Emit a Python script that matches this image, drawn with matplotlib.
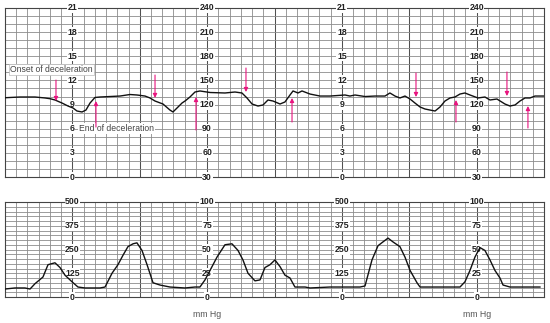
import numpy as np
import matplotlib
matplotlib.use("Agg")
import matplotlib.pyplot as plt

# ---------------- data ----------------
# Fetal heart rate (time in s, bpm)
fhr_t = [0, 13.4, 26.7, 35.6, 40.1, 44.5, 50.8, 56.1, 60.6, 64.1, 68.6, 72.1, 75.7, 80.1,
         84.6, 93.5, 102.4, 111.3, 117.5, 124.7, 129.1, 133.6, 140.7, 146.9, 149.6, 154.1,
         157.7, 160.3, 164.7, 169.2, 173.6, 182.6, 195.9, 204.8, 211.0, 215.5, 220.0, 225.3,
         229.8, 234.2, 238.7, 244.9, 249.3, 253.8, 256.5, 260.9, 264.5, 271.6, 280.5, 289.4,
         302.8, 307.2, 311.7, 320.6, 329.5, 338.4, 342.8, 347.3, 351.7, 356.2, 360.7, 365.1,
         369.6, 374.0, 378.5, 383.0, 387.4, 391.8, 396.3, 400.7, 405.2, 409.6, 414.1, 421.2,
         427.4, 431.9, 438.1, 445.2, 449.7, 454.2, 458.6, 463.1, 467.5, 472.0, 480.0]
fhr_bpm = [128.5, 129.4, 129.4, 128.2, 127.3, 125.7, 121.9, 118.2, 115.7, 112.0, 110.8, 113.2,
           121.9, 128.8, 129.4, 130.0, 130.6, 132.5, 131.9, 130.6, 128.2, 124.4, 120.7, 113.2,
           110.8, 117.0, 122.0, 124.4, 129.4, 135.6, 136.9, 135.0, 134.4, 135.6, 134.4, 128.2,
           120.7, 118.2, 119.5, 125.7, 124.4, 120.7, 123.2, 131.9, 136.9, 134.4, 136.9, 133.1,
           130.6, 130.6, 131.9, 130.6, 131.9, 130.0, 130.6, 130.6, 134.4, 130.6, 128.2, 130.6,
           126.9, 121.9, 117.0, 114.5, 113.2, 112.0, 117.0, 124.4, 128.2, 129.4, 133.1, 134.4,
           131.9, 128.2, 129.4, 125.7, 126.9, 120.7, 118.2, 119.5, 124.4, 128.2, 128.2, 130.6,
           130.6]

# Uterine contractions (time in s, mm Hg)
uc_t = [0, 8.9, 17.8, 22.3, 26.7, 33.8, 38.3, 44.5, 49.0, 53.4, 59.7, 65.0, 71.2, 84.6, 89.1,
        95.3, 100.6, 105.1, 109.5, 114.0, 117.5, 122.0, 126.5, 131.8, 138.0, 146.9, 160.3,
        169.2, 173.6, 178.1, 182.6, 188.8, 195.9, 202.1, 207.5, 211.9, 216.4, 222.6, 227.1,
        231.5, 236.0, 240.4, 244.9, 249.3, 253.8, 258.2, 267.2, 271.6, 289.4, 316.1, 320.6,
        326.8, 332.2, 336.6, 341.1, 345.5, 351.7, 356.2, 360.7, 366.9, 369.6, 387.4, 405.2,
        409.6, 414.1, 418.5, 423.0, 427.4, 431.9, 436.3, 440.8, 443.5, 449.7, 463.1, 472.0,
        476.4]
uc_mmhg = [8.4, 9.5, 9.5, 8.4, 14, 21, 34, 36, 31, 23, 16, 10.5, 9.5, 9.5, 10.5,
           25, 34, 44, 53, 56, 57, 49, 34, 15, 12.6, 10.5, 9.5,
           10.5, 10.5, 18, 28, 42, 55, 56, 49, 39, 25, 17, 18,
           31, 34, 39, 32, 23, 20, 10.5, 10.5, 9.5, 10.5, 10.5, 11.6,
           39, 54, 58, 62, 58, 53, 42, 28, 15, 10.5, 10.5, 10.5,
           16, 28, 42, 52, 49, 39, 28, 20, 12.6, 10.5, 10.5, 10.5,
           10.5]

# Deceleration markers (time, arrow tip, arrow tail in bpm)
onset_t = [45.4, 133.6, 214.6, 366.0, 447.0]
onset_tip = [124.4, 128.2, 135.6, 129.4, 130.6]
onset_tail = [150.5, 156.7, 165.4, 159.2, 160.5]
end_t = [81.0, 170.1, 255.6, 401.6, 465.7]
end_tip = [124.4, 129.4, 128.2, 125.7, 118.2]
end_tail = [92.1, 88.4, 98.3, 98.3, 90.9]

fhr_pos = [30, 60, 90, 120, 150, 180, 210, 240]
fhr_left_labels = ['0', '3', '6', '9', '12', '15', '18', '21']
fhr_right_labels = ['30', '60', '90', '120', '150', '180', '210', '240']
uc_pos = [0, 25, 50, 75, 100]
uc_left_labels = ['0', '125', '250', '375', '500']
uc_right_labels = ['0', '25', '50', '75', '100']
cols_left = [60, 300]
cols_right = [180, 420]

# ---------------- figure ----------------
FONT = 'Liberation Sans'
MAG = '#e8157f'

fig = plt.figure(figsize=(5.5, 3.23), dpi=100)
ax1 = fig.add_axes([5/550, 1-177/323, 539/550, 169/323])
ax2 = fig.add_axes([5/550, 1-297/323, 539/550, 95/323])


def style(ax, ylo, yhi, ystep):
    ax.set_xlim(0, 480)
    ax.set_ylim(ylo, yhi)
    for t in np.arange(10, 480, 10):
        major = (t % 60 == 0)
        ax.axvline(t, color='#505050' if major else '#8c8c8c',
                   lw=0.75 if major else 0.6, zorder=1)
    for y in np.arange(ylo + ystep, yhi, ystep):
        ax.axhline(y, color='#8c8c8c', lw=0.6, zorder=1)
    ax.set_xticks([])
    ax.set_yticks([])
    for s in ax.spines.values():
        s.set_color('#444444')
        s.set_linewidth(0.8)


style(ax1, 30, 240, 10)
style(ax2, 0, 100, 5)

lab_kw = dict(ha='center', va='center', fontsize=6.3, family=FONT, color='#222222',
              fontweight='bold', clip_on=False, zorder=3,
              bbox=dict(fc='white', ec='none', pad=0.4))
for c in cols_left:
    for p, s in zip(fhr_pos, fhr_left_labels):
        ax1.text(c, p, s, **lab_kw)
    for p, s in zip(uc_pos, uc_left_labels):
        ax2.text(c, p, s, **lab_kw)
for c in cols_right:
    for p, s in zip(fhr_pos, fhr_right_labels):
        ax1.text(c, p, s, **lab_kw)
    for p, s in zip(uc_pos, uc_right_labels):
        ax2.text(c, p, s, **lab_kw)
    ax2.text(c, -18, 'mm Hg', ha='center', va='center', fontsize=6.3, family=FONT,
             color='#555555', clip_on=False)

ax1.plot(fhr_t, fhr_bpm, color='#111111', lw=1.0, zorder=5)
ax2.plot(uc_t, uc_mmhg, color='#111111', lw=1.0, zorder=5)

akw = dict(arrowstyle='-|>', color=MAG, lw=0.8, mutation_scale=6,
           shrinkA=0, shrinkB=0)
for t, tip, tail in zip(onset_t, onset_tip, onset_tail):
    ax1.annotate('', xy=(t, tip), xytext=(t, tail), arrowprops=akw, zorder=6)
for t, tip, tail in zip(end_t, end_tip, end_tail):
    ax1.annotate('', xy=(t, tip), xytext=(t, tail), arrowprops=akw, zorder=6)

ax1.text(4.5, 164, 'Onset of deceleration', ha='left', va='center', fontsize=6.2,
         family=FONT, color='#444444', zorder=4,
         bbox=dict(fc='white', ec='#bbbbbb', lw=0.5, pad=0.8))
ax1.text(66, 90, 'End of deceleration', ha='left', va='center', fontsize=6.2,
         family=FONT, color='#444444', zorder=4,
         bbox=dict(fc='white', ec='none', pad=0.8))

fig.savefig('out.png', dpi=100, facecolor='white')
